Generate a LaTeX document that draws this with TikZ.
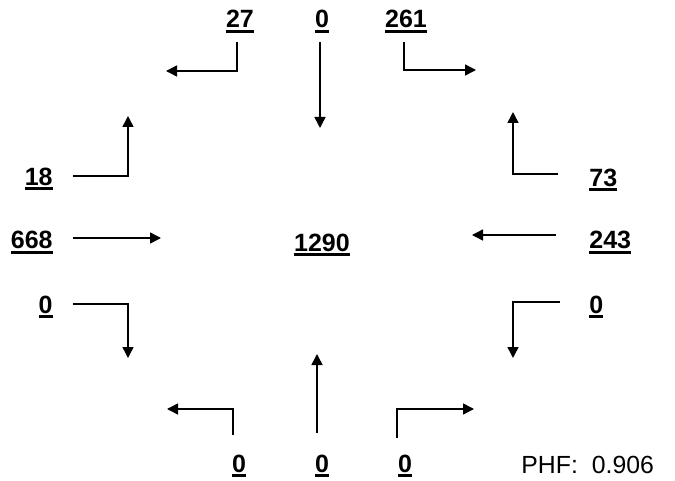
\documentclass[tikz,border=0pt]{standalone}
\usepackage{fontspec}
\setmainfont{Liberation Sans}
\usetikzlibrary{arrows.meta}

\newcommand{\ulnum}[1]{\setbox0\hbox{#1}\rlap{\rule[-2.3pt]{\wd0}{1.2pt}}\box0}
\tikzset{
  vol/.style={font=\fontsize{12.5}{14}\selectfont\bfseries, inner sep=0pt},
  phf/.style={font=\fontsize{12.4}{14}\selectfont, inner sep=0pt},
  mv/.style={line width=0.75pt, -{Triangle[length=5.5pt,width=5.5pt]}},
}

\begin{document}
\begin{tikzpicture}[x=0.5pt,y=-0.5pt]
    \useasboundingbox (0,0) rectangle (675,481);
    % turning volumes
    \node[vol,anchor=base] (nl) at (240,28) {\ulnum{27}};
    \node[vol,anchor=base] (nt) at (322,28) {\ulnum{0}};
    \node[vol,anchor=base] (nr) at (406,28) {\ulnum{261}};
    \node[vol,anchor=base east] (wr) at (53,185) {\ulnum{18}};
    \node[vol,anchor=base east] (wt) at (53,249) {\ulnum{668}};
    \node[vol,anchor=base east] (wl) at (53,313) {\ulnum{0}};
    \node[vol,anchor=base west] (el) at (589,186) {\ulnum{73}};
    \node[vol,anchor=base west] (et) at (589,249) {\ulnum{243}};
    \node[vol,anchor=base west] (er) at (589,313) {\ulnum{0}};
    \node[vol,anchor=base] (sr) at (239,472) {\ulnum{0}};
    \node[vol,anchor=base] (st) at (322,472) {\ulnum{0}};
    \node[vol,anchor=base] (sl) at (405,472) {\ulnum{0}};
    \node[vol,anchor=base] (total) at (322,251) {\ulnum{1290}};
    \node[phf,anchor=base west] (phf) at (521,473) {PHF:\hspace{7pt}0.906};

    % arrow tails and heads
    \foreach \n/\x/\y in {nl-a/237/42, nl-b/166/71, nt-a/320/42, nt-b/320/128,
        nr-a/404/42, nr-b/476/70, wr-a/73/176, wr-b/128/116, wt-a/73/238,
        wt-b/161/238, wl-a/73/304, wl-b/128/358, el-a/558/174, el-b/513/112,
        et-a/556/235, et-b/472/235, er-a/560/302, er-b/513/358, sr-a/233/435,
        sr-b/167/409, st-a/317/433, st-b/317/354, sl-a/397/438, sl-b/474/409}
        \coordinate (\n) at (\x,\y);

    \draw[mv] (nl-a) |- (nl-b);
    \draw[mv] (nt-a) -- (nt-b);
    \draw[mv] (nr-a) |- (nr-b);
    \draw[mv] (wr-a) -| (wr-b);
    \draw[mv] (wt-a) -- (wt-b);
    \draw[mv] (wl-a) -| (wl-b);
    \draw[mv] (el-a) -| (el-b);
    \draw[mv] (et-a) -- (et-b);
    \draw[mv] (er-a) -| (er-b);
    \draw[mv] (sr-a) |- (sr-b);
    \draw[mv] (st-a) -- (st-b);
    \draw[mv] (sl-a) |- (sl-b);
\end{tikzpicture}
\end{document}
